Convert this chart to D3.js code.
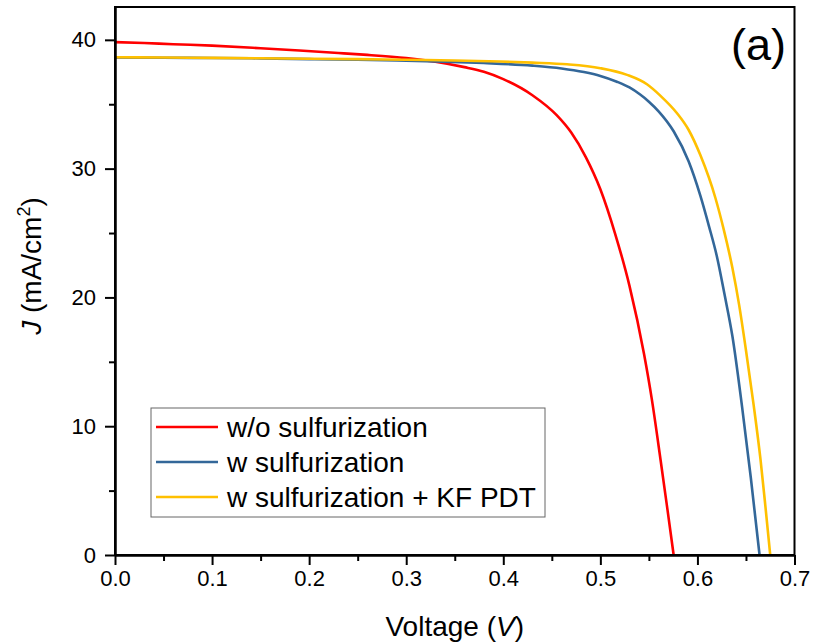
<!DOCTYPE html>
<html>
<head>
<meta charset="utf-8">
<script src="https://cdn.jsdelivr.net/npm/d3@7"></script>
<style>
  body { margin: 0; background: #fff; }
  svg { display: block; font-family: "Liberation Sans", Arial, sans-serif; }
</style>
</head>
<body>
<script>
// J-V curves, three samples

const seriesNames = ["w/o sulfurization", "w sulfurization", "w sulfurization + KF PDT"];
const colors = ["#ff0000", "#336799", "#ffc000"];

// voltage (V) and current density (mA/cm2)
const vRed = [0, 0.03, 0.06, 0.10, 0.15, 0.19, 0.23, 0.26, 0.30, 0.33, 0.36, 0.38, 0.40, 0.43, 0.455, 0.47, 0.485, 0.50, 0.515, 0.53, 0.545, 0.553, 0.562, 0.569, 0.5755];
const jRed = [39.82, 39.75, 39.66, 39.55, 39.35, 39.17, 38.98, 38.83, 38.58, 38.30, 37.88, 37.52, 36.95, 35.7, 34.15, 32.8, 30.9, 28.4, 25.0, 20.9, 15.6, 12.1, 7.4, 3.6, 0];

const vBlue = [0, 0.05, 0.10, 0.15, 0.20, 0.25, 0.30, 0.33, 0.38, 0.43, 0.46, 0.483, 0.50, 0.517, 0.53, 0.541, 0.55, 0.56, 0.5755, 0.591, 0.603, 0.612, 0.62, 0.628, 0.636, 0.646, 0.655, 0.664];
const jBlue = [38.63, 38.61, 38.59, 38.56, 38.50, 38.45, 38.38, 38.33, 38.20, 38.0, 37.78, 37.5, 37.2, 36.75, 36.3, 35.75, 35.2, 34.45, 32.9, 30.55, 27.9, 25.5, 23.2, 20.2, 17.0, 11.5, 6.0, 0];

const vYellow = [0, 0.05, 0.10, 0.15, 0.20, 0.25, 0.30, 0.35, 0.397, 0.43, 0.4656, 0.50, 0.5275, 0.548, 0.562, 0.579, 0.591, 0.603, 0.6186, 0.627, 0.636, 0.643, 0.650, 0.658, 0.665, 0.670, 0.675];
const jYellow = [38.65, 38.63, 38.60, 38.57, 38.53, 38.50, 38.45, 38.40, 38.32, 38.23, 38.1, 37.8, 37.28, 36.55, 35.65, 34.3, 33.0, 31.05, 27.7, 25.3, 22.3, 19.4, 15.9, 11.6, 7.4, 3.8, 0];

const xMajor = [0, 0.1, 0.2, 0.3, 0.4, 0.5, 0.6, 0.7];
const xMinor = [0.05, 0.15, 0.25, 0.35, 0.45, 0.55, 0.65];
const yMajor = [0, 10, 20, 30, 40];
const yMinor = [5, 15, 25, 35];

const width = 813, height = 643;
const plot = {left: 115, right: 794.5, top: 7, bottom: 555};

const svg = d3.select("body").append("svg")
    .attr("width", width)
    .attr("height", height);

const x = d3.scaleLinear().domain([0, 0.7]).range([plot.left, plot.right]);
const y = d3.scaleLinear().domain([0, 42.55]).range([plot.bottom, plot.top]);

const series = [
  {name: seriesNames[0], color: colors[0], pts: d3.zip(vRed, jRed)},
  {name: seriesNames[1], color: colors[1], pts: d3.zip(vBlue, jBlue)},
  {name: seriesNames[2], color: colors[2], pts: d3.zip(vYellow, jYellow)}
];

const line = d3.line()
    .x(d => x(d[0]))
    .y(d => y(d[1]))
    .curve(d3.curveMonotoneX);

// curves (yellow drawn last so it sits on top like the original)
svg.append("g").selectAll("path")
    .data(series)
    .enter().append("path")
    .attr("d", d => line(d.pts))
    .attr("fill", "none")
    .attr("stroke", d => d.color)
    .attr("stroke-width", 2.6)
    .attr("stroke-linejoin", "round");

// frame
svg.append("rect")
    .attr("x", plot.left).attr("y", plot.top)
    .attr("width", plot.right - plot.left)
    .attr("height", plot.bottom - plot.top)
    .attr("fill", "none")
    .attr("stroke", "#000")
    .attr("stroke-width", 2);

// axes
const xAxis = svg.append("g")
    .attr("transform", "translate(0," + plot.bottom + ")")
    .call(d3.axisBottom(x).tickValues(xMajor).tickSize(10).tickSizeOuter(0)
          .tickFormat(d3.format(".1f")));
svg.append("g")
    .attr("transform", "translate(0," + plot.bottom + ")")
    .call(d3.axisBottom(x).tickValues(xMinor).tickSize(6).tickSizeOuter(0).tickFormat(""));

const yAxis = svg.append("g")
    .attr("transform", "translate(" + plot.left + ",0)")
    .call(d3.axisLeft(y).tickValues(yMajor).tickSize(10).tickSizeOuter(0));
svg.append("g")
    .attr("transform", "translate(" + plot.left + ",0)")
    .call(d3.axisLeft(y).tickValues(yMinor).tickSize(6).tickSizeOuter(0).tickFormat(""));

svg.selectAll(".domain").attr("stroke", "#000").attr("stroke-width", 2);
svg.selectAll(".tick line").attr("stroke", "#000").attr("stroke-width", 2);
svg.selectAll(".tick text")
    .attr("font-family", "'Liberation Sans', Arial, sans-serif")
    .attr("font-size", 22)
    .attr("fill", "#000");
xAxis.selectAll(".tick text").attr("y", 15).attr("dy", "0.71em");
yAxis.selectAll(".tick text").attr("x", -19);

// axis titles
const xTitle = svg.append("text")
    .attr("x", (plot.left + plot.right) / 2)
    .attr("y", 636)
    .attr("text-anchor", "middle")
    .attr("font-size", 28);
xTitle.append("tspan").text("Voltage (");
xTitle.append("tspan").attr("font-style", "italic").text("V");
xTitle.append("tspan").text(")");

const yTitle = svg.append("text")
    .attr("transform", "translate(41,266) rotate(-90)")
    .attr("text-anchor", "middle")
    .attr("font-size", 28);
yTitle.append("tspan").attr("font-style", "italic").text("J");
yTitle.append("tspan").text(" (mA/cm");
yTitle.append("tspan").attr("font-size", 18).attr("dy", -11).text("2");
yTitle.append("tspan").attr("dy", 11).text(")");

// panel label
svg.append("text")
    .attr("x", 786)
    .attr("y", 60)
    .attr("text-anchor", "end")
    .attr("font-size", 45)
    .text("(a)");

// legend
const legend = svg.append("g");
legend.append("rect")
    .attr("x", 151).attr("y", 408)
    .attr("width", 394).attr("height", 109)
    .attr("fill", "#fff")
    .attr("stroke", "#666")
    .attr("stroke-width", 1);

const rows = legend.selectAll(".row")
    .data(series)
    .enter().append("g")
    .attr("class", "row")
    .attr("transform", (d, i) => "translate(0," + (427 + i * 35) + ")");
rows.append("line")
    .attr("x1", 156).attr("x2", 218)
    .attr("stroke", d => d.color)
    .attr("stroke-width", 2.6);
rows.append("text")
    .attr("x", 227)
    .attr("dy", "0.35em")
    .attr("font-size", 28)
    .text(d => d.name);
</script>
</body>
</html>
